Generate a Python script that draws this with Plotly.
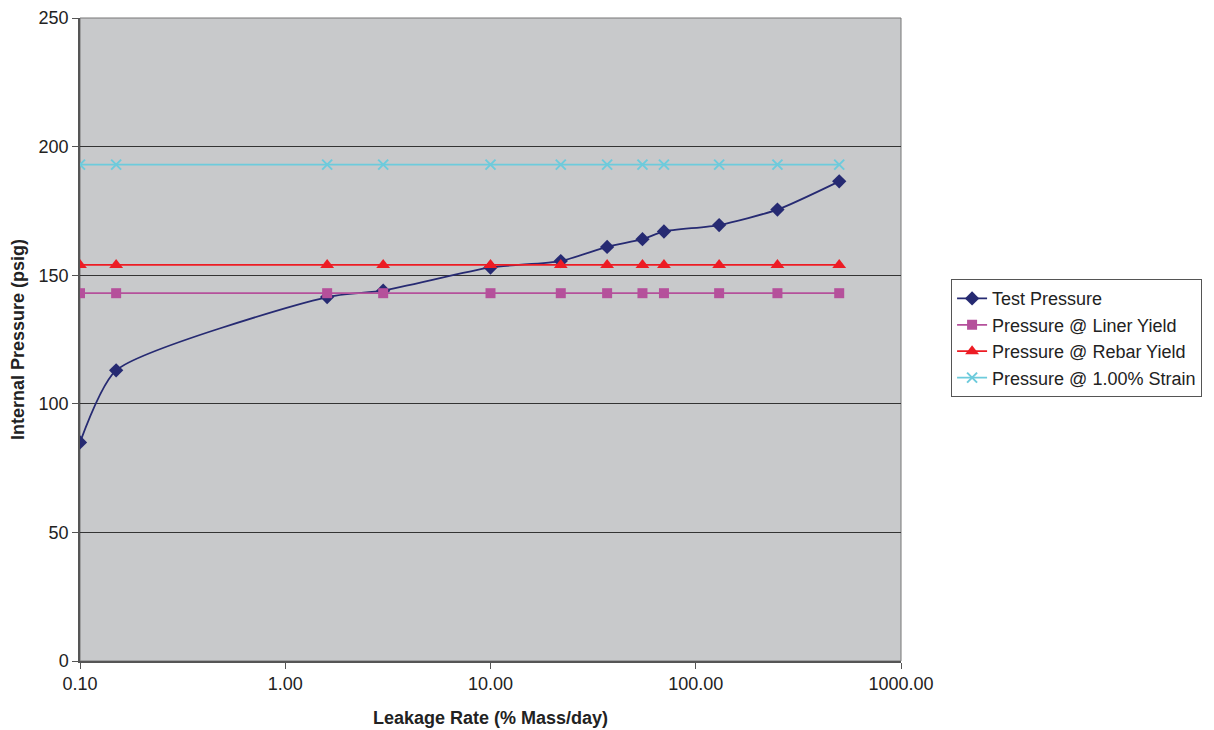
import plotly.graph_objects as go

leak = [0.1, 0.15, 1.6, 3.0, 10, 22, 37, 55, 70, 130, 250, 500]
test_pressure = [85, 113, 141.5, 144, 153, 155.5, 161, 164, 167, 169.5, 175.5, 186.5]
liner_yield = [143] * 12
rebar_yield = [154] * 12
strain_1pct = [193] * 12

x_ticks = [0.1, 1, 10, 100, 1000]
x_tick_text = ["0.10", "1.00", "10.00", "100.00", "1000.00"]
y_ticks = [0, 50, 100, 150, 200, 250]

fig = go.Figure()
fig.add_trace(go.Scatter(x=leak, y=test_pressure, name="Test Pressure", mode="lines+markers",
                         line=dict(color="#262a72", width=1.8, shape="spline", smoothing=0.6),
                         marker=dict(symbol="diamond", size=11, color="#262a72")))
fig.add_trace(go.Scatter(x=leak, y=liner_yield, name="Pressure @ Liner Yield", mode="lines+markers",
                         line=dict(color="#b5509b", width=1.8),
                         marker=dict(symbol="square", size=10, color="#b5509b")))
fig.add_trace(go.Scatter(x=leak, y=rebar_yield, name="Pressure @ Rebar Yield", mode="lines+markers",
                         line=dict(color="#ed1c24", width=1.8),
                         marker=dict(symbol="triangle-up", size=12, color="#ed1c24")))
fig.add_trace(go.Scatter(x=leak, y=strain_1pct, name="Pressure @ 1.00% Strain", mode="lines+markers",
                         line=dict(color="#6dcbdc", width=1.8),
                         marker=dict(symbol="x-thin", size=10, line=dict(color="#6dcbdc", width=2), color="#6dcbdc")))

fig.update_layout(
    width=1214, height=730,
    margin=dict(l=72, r=321, t=10, b=77, autoexpand=False),
    paper_bgcolor="white", plot_bgcolor="#c8c9cb",
    font=dict(family="Arial, Liberation Sans, sans-serif", size=18, color="#222"),
    showlegend=True,
    legend=dict(x=1.061, y=0.502, xanchor="left", yanchor="middle",
                bordercolor="#555", borderwidth=1, bgcolor="white",
                font=dict(size=18), tracegroupgap=0, itemwidth=30),
    xaxis=dict(type="log", range=[-1, 3], tickvals=x_ticks, ticktext=x_tick_text,
               showgrid=False, ticks="outside", ticklen=6, tickcolor="#555", automargin=False,
               ticklabeloverflow="allow",
               showline=True, linecolor="#555", linewidth=1.5, zeroline=False,
               title=dict(text="<b>Leakage Rate (% Mass/day)</b>", font=dict(size=18), standoff=18)),
    yaxis=dict(range=[0, 250], tickvals=y_ticks, showgrid=True, gridcolor="#333", gridwidth=1,
               ticks="outside", ticklen=6, tickcolor="#555", automargin=False,
               ticklabeloverflow="allow",
               showline=True, linecolor="#555", linewidth=1.5, zeroline=False,
               title=dict(text="<b>Internal Pressure (psig)</b>", font=dict(size=18), standoff=12)),
)
fig.add_shape(type="rect", xref="paper", yref="paper", x0=0, x1=1, y0=0, y1=1,
              line=dict(color="#777", width=1), layer="below")

fig.write_html("out.html")
